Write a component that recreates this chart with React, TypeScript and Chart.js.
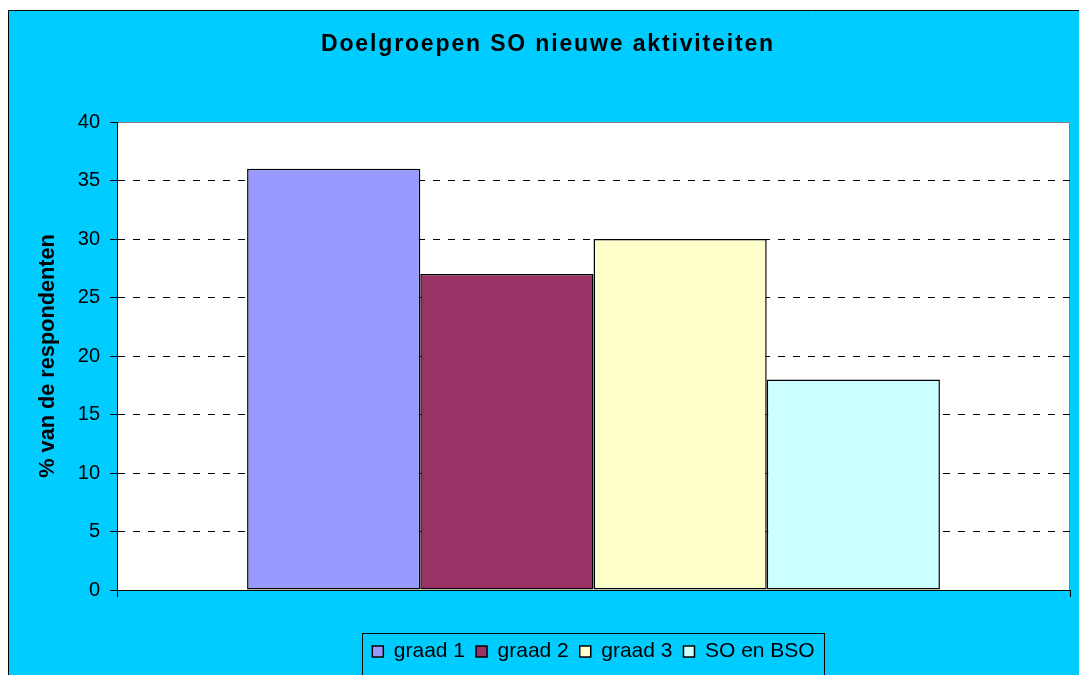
import React, { useEffect, useRef } from 'react';
import { Chart, registerables } from 'chart.js';

Chart.register(...registerables);

const TITLE = 'Doelgroepen SO nieuwe aktiviteiten';
const Y_TITLE = '% van de respondenten';
const CATEGORIES = [''];
const SERIES_LABELS = ['graad 1', 'graad 2', 'graad 3', 'SO en BSO'];
const SERIES_VALUES = [36, 27, 30, 18];
const SERIES_COLORS = ['#9999FF', '#993366', '#FFFFCC', '#CCFFFF'];
const Y_MIN = 0;
const Y_MAX = 40;
const Y_STEP = 5;

const FONT = '"Liberation Sans", Arial, Helvetica, sans-serif';

const framePlugin = {
  id: 'excelFrame',
  afterInit(chart: any) {
    const tb = chart.titleBlock;
    if (tb && !tb.__spaced) {
      const orig = tb.draw.bind(tb);
      tb.draw = (...args: any[]) => {
        const c = chart.ctx;
        c.save();
        c.letterSpacing = '1.85px';
        orig(...args);
        c.restore();
      };
      tb.__spaced = true;
    }
  },
  beforeDraw(chart: any) {
    const { ctx, chartArea: a, width, height } = chart;
    ctx.save();
    ctx.fillStyle = '#FFFFFF';
    ctx.fillRect(0, 0, width, height);
    ctx.fillStyle = '#00CCFF';
    ctx.fillRect(8, 10, width - 8, height - 10);
    ctx.strokeStyle = '#000000';
    ctx.lineWidth = 1;
    ctx.beginPath();
    ctx.moveTo(8.5, height);
    ctx.lineTo(8.5, 10.5);
    ctx.lineTo(width, 10.5);
    ctx.stroke();
    ctx.fillStyle = '#FFFFFF';
    ctx.fillRect(a.left, a.top, a.right - a.left, a.bottom - a.top);
    ctx.strokeStyle = '#808080';
    ctx.beginPath();
    ctx.moveTo(a.left, a.top + 0.5);
    ctx.lineTo(a.right - 0.5, a.top + 0.5);
    ctx.lineTo(a.right - 0.5, a.bottom);
    ctx.stroke();
    ctx.restore();
  },
  afterDraw(chart: any) {
    const lg = chart.legend;
    if (!lg || !lg.legendHitBoxes || !lg.legendHitBoxes.length) return;
    const hb = lg.legendHitBoxes;
    let l = Infinity, r = -Infinity, t = Infinity, b = -Infinity;
    hb.forEach((h: any) => {
      l = Math.min(l, h.left);
      r = Math.max(r, h.left + h.width);
      t = Math.min(t, h.top);
      b = Math.max(b, h.top + h.height);
    });
    const { ctx } = chart;
    ctx.save();
    ctx.strokeStyle = '#000000';
    ctx.lineWidth = 1;
    ctx.strokeRect(Math.round(l - 10) + 0.5, Math.round(t - 8) + 0.5, Math.round(r - l + 20), Math.round(b - t + 21));
    ctx.restore();
  },
};

export default function App() {
  const ref = useRef<HTMLCanvasElement | null>(null);

  useEffect(() => {
    if (!ref.current) return;
    const chart = new Chart(ref.current, {
      type: 'bar',
      data: {
        labels: CATEGORIES,
        datasets: SERIES_LABELS.map((label, i) => ({
          label,
          data: [SERIES_VALUES[i]],
          backgroundColor: SERIES_COLORS[i],
          borderColor: '#000000',
          borderWidth: 1.5,
          borderSkipped: false,
          categoryPercentage: 0.727,
          barPercentage: 1,
        })),
      },
      options: {
        responsive: false,
        animation: false,
        devicePixelRatio: 1,
        layout: { padding: { top: 0, left: 26, right: 9, bottom: 3 } },
        plugins: {
          title: {
            display: true,
            text: TITLE,
            color: '#000000',
            font: { family: FONT, size: 23, weight: 'bold' },
            padding: { top: 31, bottom: 63.4 },
          },
          legend: {
            display: true,
            position: 'bottom',
            fullSize: false,
            padding: 10,
            labels: {
              boxWidth: 11,
              boxHeight: 11,
              padding: 11,
              color: '#000000',
              font: { family: FONT, size: 21 },
            },
          },
          tooltip: { enabled: false },
        },
        scales: {
          x: {
            type: 'category',
            grid: {
              drawOnChartArea: false,
              drawTicks: true,
              tickLength: 7,
              color: '#000000',
              tickColor: '#000000',
            },
            border: { color: '#000000', width: 1 },
            ticks: { display: false },
            afterFit: (s: any) => { s.height = 40; },
          },
          y: {
            min: Y_MIN,
            max: Y_MAX,
            ticks: {
              stepSize: Y_STEP,
              color: '#000000',
              padding: 10,
              font: { family: FONT, size: 20 },
            },
            grid: {
              drawTicks: true,
              tickLength: 7,
              color: (c: any) => (c.tick && (c.tick.value === Y_MAX || c.tick.value === Y_MIN) ? 'rgba(0,0,0,0)' : '#000000'),
              tickColor: '#000000',
              lineWidth: 1,
            },
            border: { color: '#000000', width: 1, dash: [7, 8] },
            title: {
              display: true,
              text: Y_TITLE,
              color: '#000000',
              font: { family: FONT, size: 21.7, weight: 'bold' },
              padding: { top: 9, bottom: 0 },
            },
            afterFit: (s: any) => { s.width = 91; },
          },
        },
      },
      plugins: [framePlugin],
    } as any);
    return () => chart.destroy();
  }, []);

  return (
    <div style={{ position: 'absolute', left: 0, top: 0, width: 1079, height: 675 }}>
      <canvas ref={ref} width={1079} height={675} />
    </div>
  );
}
